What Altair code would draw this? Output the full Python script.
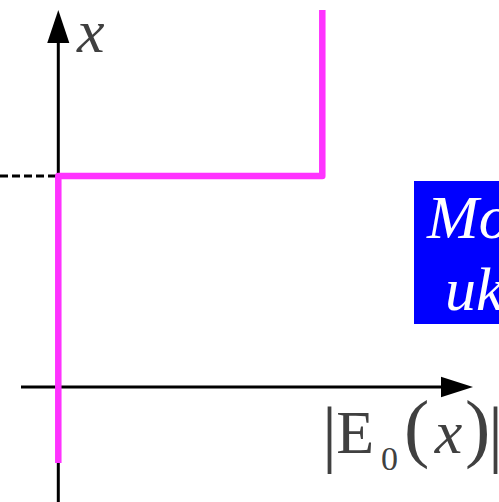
import altair as alt
import pandas as pd

# Horizontal quantity |E0(x)| and vertical coordinate x, in schematic units.
E_MIN, E_MAX = -0.583, 4.407
X_MIN, X_MAX = -1.15, 3.87

# Step profile of the field magnitude
step_E = [0.0, 0.0, 2.64, 2.64]
step_x = [-0.76, 2.11, 2.11, 3.77]

# Dashed guide marking the step height on the x axis
guide_E = [E_MIN, 0.0]
guide_x = [2.11, 2.11]

# Axis lines (vertical x axis, horizontal |E0| axis)
vaxis_E = [0.0, 0.0]
vaxis_x = [X_MIN, 3.44]
haxis_E = [-0.373, 3.827]
haxis_x = [0.0, 0.0]

# Arrow heads
arrow_E = [0.0, 3.987]
arrow_x = [3.605, 0.0]
arrow_shape = ["M0,-1L0.67,1L-0.67,1Z", "M1,0L-1,-0.64L-1,0.64Z"]
arrow_size = [1089, 1024]

# Blue note box
box_E = [3.557]
box_E2 = [E_MAX]
box_x = [2.06]
box_x2 = [0.63]

# Box text (white italic)
note_text = ["Mo", "uk"]
note_E = [3.687, 3.867]
note_x = [1.49, 0.77]

# Italic math symbols
ital_text = ["x", "x"]
ital_E = [0.187, 3.764]
ital_x = [3.35, -0.66]

# Upright parts of the |E0(x)| label
up_text = ["|", "E", "0", "(", ")", "|"]
up_E = [2.637, 2.78, 3.227, 3.457, 4.067, 4.297]
up_x = [-0.706, -0.66, -0.825, -0.66, -0.66, -0.706]
up_size = [75, 62, 34, 76, 76, 75]

SERIF = "Liberation Serif"
INK = "#404040"

xs = alt.Scale(domain=[E_MIN, E_MAX], nice=False, zero=False)
ys = alt.Scale(domain=[X_MIN, X_MAX], nice=False, zero=False)


def pos(field_e="E", field_x="x"):
    return dict(
        x=alt.X(f"{field_e}:Q", scale=xs, axis=None),
        y=alt.Y(f"{field_x}:Q", scale=ys, axis=None),
    )


def seg(E, x):
    return pd.DataFrame({"E": E, "x": x, "o": list(range(len(E)))})


vaxis = alt.Chart(seg(vaxis_E, vaxis_x)).mark_line(
    color="black", strokeWidth=3, clip=True
).encode(order="o:Q", **pos())

haxis = alt.Chart(seg(haxis_E, haxis_x)).mark_line(
    color="black", strokeWidth=3
).encode(order="o:Q", **pos())

arrows = alt.Chart(
    pd.DataFrame({"E": arrow_E, "x": arrow_x, "shape": arrow_shape, "size": arrow_size})
).mark_point(filled=True, color="black", opacity=1, strokeWidth=0).encode(
    shape=alt.Shape("shape:N", scale=None),
    size=alt.Size("size:Q", scale=None),
    **pos(),
)

guide = alt.Chart(seg(guide_E, guide_x)).mark_line(
    color="black", strokeWidth=3, strokeDash=[8, 4]
).encode(order="o:Q", **pos())

step = alt.Chart(seg(step_E, step_x)).mark_line(
    color="#ff33ff", strokeWidth=6.5, strokeJoin="round", strokeCap="butt"
).encode(order="o:Q", **pos())

box = alt.Chart(
    pd.DataFrame({"E": box_E, "E2": box_E2, "x": box_x, "x2": box_x2})
).mark_rect(color="#0000ff", clip=True).encode(
    x2="E2:Q", y2="x2:Q", **pos()
)

note = alt.Chart(
    pd.DataFrame({"E": note_E, "x": note_x, "t": note_text})
).mark_text(
    font=SERIF, fontStyle="italic", fontSize=62, color="white",
    align="left", baseline="alphabetic", clip=True
).encode(text="t:N", **pos())

ital = alt.Chart(
    pd.DataFrame({"E": ital_E, "x": ital_x, "t": ital_text})
).mark_text(
    font=SERIF, fontStyle="italic", fontSize=62, color=INK,
    align="left", baseline="alphabetic"
).encode(text="t:N", **pos())

upright = alt.Chart(
    pd.DataFrame({"E": up_E, "x": up_x, "t": up_text, "s": up_size})
).mark_text(
    font=SERIF, color=INK, align="left", baseline="alphabetic"
).encode(text="t:N", size=alt.Size("s:Q", scale=None), **pos())

chart = alt.layer(
    vaxis, haxis, arrows, guide, step, box, note, ital, upright
).properties(
    width=499, height=502, autosize=alt.AutoSizeParams(type="none"), padding=0
).configure_view(stroke=None)

chart.save("out.html", embed_options={"renderer": "svg", "actions": False})
